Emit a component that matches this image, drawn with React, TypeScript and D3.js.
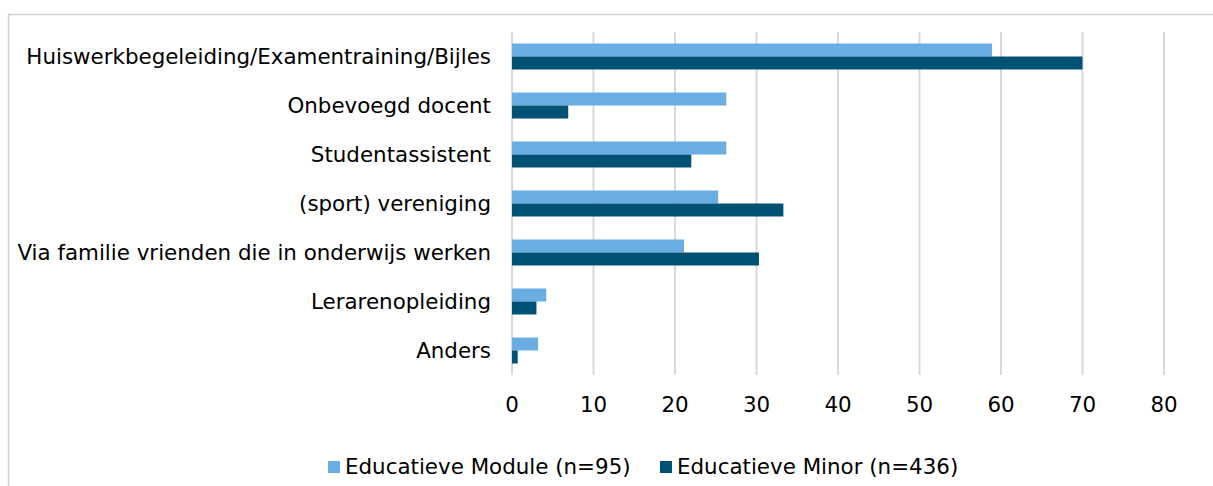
import React from 'react';
import * as d3 from 'd3';

const categories = [
  'Huiswerkbegeleiding/Examentraining/Bijles',
  'Onbevoegd docent',
  'Studentassistent',
  '(sport) vereniging',
  'Via familie vrienden die in onderwijs werken',
  'Lerarenopleiding',
  'Anders',
];
const moduleValues = [58.9, 26.3, 26.3, 25.3, 21.1, 4.2, 3.2];
const minorValues = [70.0, 6.9, 22.0, 33.3, 30.3, 3.0, 0.7];
const seriesNames = ['Educatieve Module (n=95)', 'Educatieve Minor (n=436)'];
const tickValues = [0, 10, 20, 30, 40, 50, 60, 70, 80];

const W = 1213;
const H = 486;
const colors = ['#6aade2', '#005274'];
const font = 'Verdana, "DejaVu Sans", sans-serif';
const fs = 21.4;

const App: React.FC = () => {
  const x = d3.scaleLinear().domain([0, 80]).range([512, 1164]);
  const y = d3.scaleBand<string>().domain(categories).range([32, 375]);
  const barH = 13;
  const series = [moduleValues, minorValues];

  return (
    <div style={{ position: 'fixed', left: 0, top: 0 }}>
      <svg width={W} height={H} style={{ display: 'block', background: '#fff' }}>
        <rect x={8.5} y={14.5} width={W + 10} height={H + 10} fill="none" stroke="#d4d0cc" strokeWidth={1.5} />
        {tickValues.map(t => (
          <g key={t}>
            <line x1={x(t)} x2={x(t)} y1={32} y2={375} stroke="#d9d9d9" strokeWidth={2} />
            <text x={x(t)} y={405} dy="0.35em" textAnchor="middle" fontFamily={font} fontSize={fs} fill="#000">
              {t}
            </text>
          </g>
        ))}
        {categories.map((c, i) => {
          const cy = (y(c) ?? 0) + y.bandwidth() / 2;
          return (
            <g key={c}>
              {series.map((vals, s) => (
                <rect
                  key={s}
                  x={x(0)}
                  y={cy - barH + s * barH}
                  width={x(vals[i]) - x(0)}
                  height={barH}
                  fill={colors[s]}
                />
              ))}
              <text x={491} y={cy} dy="0.35em" textAnchor="end" fontFamily={font} fontSize={fs} fill="#000">
                {c}
              </text>
            </g>
          );
        })}
        {seriesNames.map((n, s) => {
          const lx = s === 0 ? 328 : 660;
          return (
            <g key={n}>
              <rect x={lx} y={461} width={12} height={12} fill={colors[s]} />
              <text x={lx + 17} y={467} dy="0.35em" fontFamily={font} fontSize={fs} fill="#000">
                {n}
              </text>
            </g>
          );
        })}
      </svg>
    </div>
  );
};

export default App;
